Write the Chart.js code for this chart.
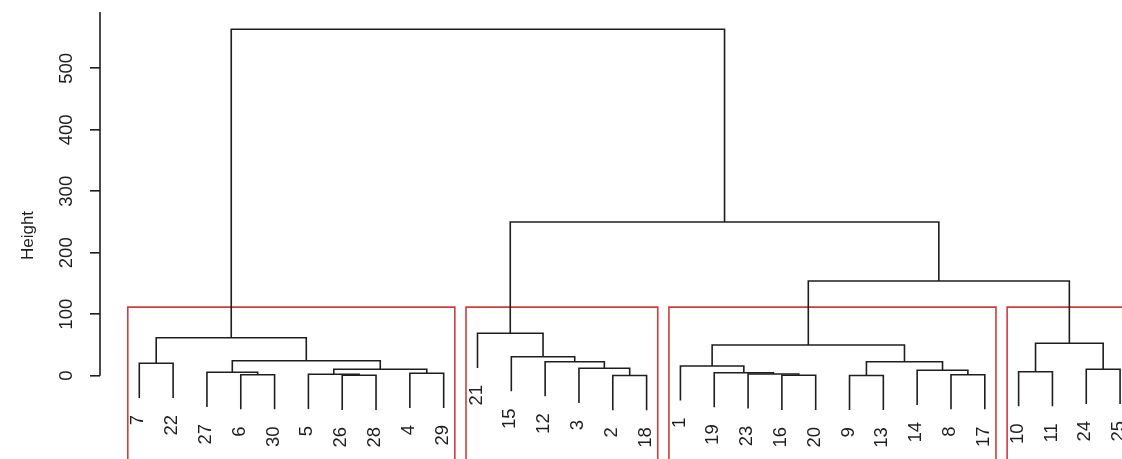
<!DOCTYPE html>
<html>
<head>
<meta charset="utf-8">
<script src="https://cdn.jsdelivr.net/npm/chart.js@4.4.1/dist/chart.umd.min.js"></script>
<style>
  html, body { margin: 0; padding: 0; background: #fff; }
  #wrap { position: relative; width: 1122px; height: 459px; }
</style>
</head>
<body>
<div id="wrap"><canvas id="dendro"></canvas></div>
<script>
// ── Data ─────────────────────────────────────────────
// leaf labels, left to right in dendrogram order
const leafLabels = ['7','22','27','6','30','5','26','28','4','29',
                    '21','15','12','3','2','18',
                    '1','19','23','16','20','9','13','14','8','17',
                    '10','11','24','25'];

// merge table, hclust style: negative = leaf position (1-based), positive = earlier merge row
const mergeLeft   = [-7, -4, -6, -9, -3, 3, 5, -1, 8, -15, -14, -13, -12, -11, -20, -19, -18, -17, -22, -25, -24, 19, 18, -27, -29, 24, 23, 14, 9];
const mergeRight  = [-8, -5,  1, -10, 2, 4, 6, -2, 7, -16,  10,  11,  12,  13, -21,  15,  16,  17, -23, -26,  20, 21, 22, -28, -30, 25, 26, 27, 28];
const mergeHeight = [0.7, 1.6, 2.3, 3.9, 5.5, 10.4, 24.4, 20.2, 61.8, 0.3, 12.0, 22.8, 30.9, 69.0, 0.7, 2.8, 4.9, 15.8, 0.4, 1.6, 8.8, 22.8, 49.9, 6.5, 10.4, 52.7, 154, 250, 563.4];

// k = 4 boxed clusters (first / last leaf position)
const clusterFirst = [0, 10, 16, 26];
const clusterLast  = [9, 15, 25, 29];

const yTicks = [0, 100, 200, 300, 400, 500];

// ── Build segments ───────────────────────────────────
const FONT = 'Arial, "Liberation Sans", sans-serif';
const hang = 0.1 * Math.max(...mergeHeight);
const nodeX = [];
const leafEnd = new Array(leafLabels.length).fill(0);
const segments = [];

function childPoint(ref, parentH) {
  if (ref < 0) {
    const pos = -ref - 1;
    leafEnd[pos] = parentH - hang;
    return { x: pos, y: parentH - hang };
  }
  return { x: nodeX[ref - 1], y: mergeHeight[ref - 1] };
}

mergeHeight.forEach((h, i) => {
  const a = childPoint(mergeLeft[i], h);
  const b = childPoint(mergeRight[i], h);
  nodeX[i] = (a.x + b.x) / 2;
  segments.push([a, { x: a.x, y: h }, { x: b.x, y: h }, b]);
});

// cut height for the boxes: mean of the (k-1)th and kth highest merges
const sortedH = [...mergeHeight].sort((p, q) => q - p);
const k = clusterFirst.length;
const cutH = (sortedH[k - 2] + sortedH[k - 1]) / 2;

const datasets = segments.map(pts => ({
  data: pts, showLine: true, borderColor: '#1e1e1e', borderWidth: 1.6,
  pointRadius: 0, tension: 0, clip: false,
}));

clusterFirst.forEach((f, i) => {
  const l = f - 0.34, r = clusterLast[i] + 0.33, bot = -400;
  datasets.push({
    data: [{ x: l, y: bot }, { x: l, y: cutH }, { x: r, y: cutH }, { x: r, y: bot }],
    showLine: true, borderColor: '#d23c3c', borderWidth: 1.6,
    pointRadius: 0, tension: 0, clip: false,
  });
});

// ── Axis geometry (pixels → value range) ─────────────
const PX_PER_UNIT_Y = 0.6148, Y0_PX = 375.7, TOP_PX = 12, H_PX = 459;
const yMax = (Y0_PX - TOP_PX) / PX_PER_UNIT_Y;
const yMin = yMax - (H_PX - TOP_PX) / PX_PER_UNIT_Y;
const LEFT_PX = 100, LEAF0_PX = 139.3, LEAF_STEP = 33.82;
const xMin = -(LEAF0_PX - LEFT_PX) / LEAF_STEP;
const xMax = (1122 - LEAF0_PX) / LEAF_STEP;

// ── Plugins: axis line + leaf labels ─────────────────
const dendroExtras = {
  id: 'dendroExtras',
  afterDatasetsDraw(chart) {
    const { ctx, scales: { x, y } } = chart;
    ctx.save();
    // y axis line, from 0 up to top of plot
    ctx.strokeStyle = '#1e1e1e';
    ctx.lineWidth = 1.6;
    ctx.beginPath();
    ctx.moveTo(y.right, y.getPixelForValue(0));
    ctx.lineTo(y.right, chart.chartArea.top);
    ctx.stroke();
    // leaf labels, rotated, hanging below each leaf end
    ctx.fillStyle = '#1e1e1e';
    ctx.font = '18.5px ' + FONT;
    ctx.textAlign = 'right';
    ctx.textBaseline = 'middle';
    leafLabels.forEach((lab, i) => {
      const px = x.getPixelForValue(i) - 1;
      const py = y.getPixelForValue(leafEnd[i]) + 17;
      ctx.save();
      ctx.translate(px, py);
      ctx.rotate(-Math.PI / 2);
      ctx.fillText(lab, 0, 0);
      ctx.restore();
    });
    ctx.restore();
  },
};

new Chart(document.getElementById('dendro'), {
  type: 'scatter',
  data: { datasets },
  plugins: [dendroExtras],
  options: {
    responsive: true,
    maintainAspectRatio: false,
    animation: false,
    layout: { padding: { top: TOP_PX, left: 0, right: 0, bottom: 0 } },
    plugins: { legend: { display: false }, tooltip: { enabled: false } },
    scales: {
      x: { type: 'linear', display: false, min: xMin, max: xMax },
      y: {
        type: 'linear', min: yMin, max: yMax,
        afterBuildTicks: ax => { ax.ticks = yTicks.map(v => ({ value: v })); },
        afterFit: ax => { ax.width = LEFT_PX; ax.paddingTop = 0; ax.paddingBottom = 0; },
        border: { display: false },
        grid: { drawOnChartArea: false, drawTicks: true, tickLength: 10, color: '#1e1e1e', lineWidth: 1.6 },
        ticks: { minRotation: 90, maxRotation: 90, crossAlign: 'center', padding: 8, color: '#1e1e1e', font: { family: FONT, size: 18.5 } },
        title: { display: true, text: 'Height', color: '#1e1e1e', font: { family: FONT, size: 17 }, padding: { top: 18, bottom: 0 } },
      },
    },
  },
});
</script>
</body>
</html>
